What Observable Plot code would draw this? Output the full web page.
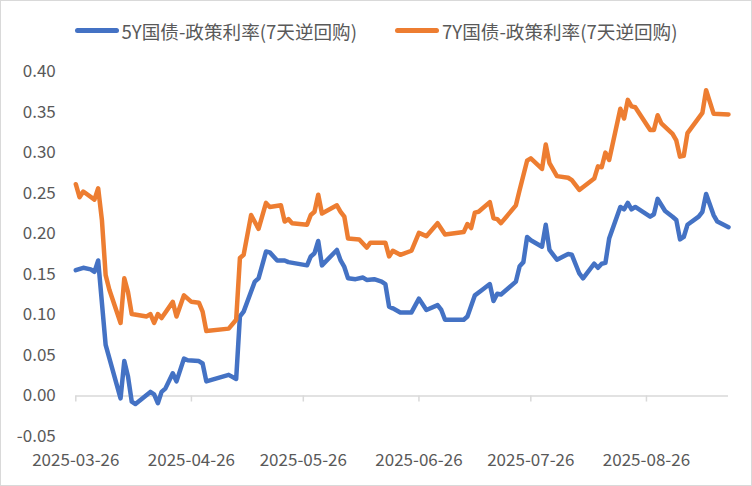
<!DOCTYPE html>
<html>
<head>
<meta charset="utf-8">
<script src="https://cdn.jsdelivr.net/npm/d3@7"></script>
<script src="https://cdn.jsdelivr.net/npm/@observablehq/plot@0.6"></script>
<style>
  html, body { margin: 0; padding: 0; background: #fff; }
  #wrap { position: relative; width: 752px; height: 486px; overflow: hidden; background: #fff;
          font-family: "Noto Sans CJK SC", "Noto Sans", sans-serif; color: #595959; }
  #frame { position: absolute; left: 0; top: 0; width: 752px; height: 486px; box-sizing: border-box;
           border: 1px solid #d9d9d9; pointer-events: none; }
  #legend { height: 56px; display: flex; justify-content: center; align-items: center; gap: 38px;
            font-size: 18.6px; padding-top: 4px; box-sizing: border-box; }
  .item { display: flex; align-items: center; gap: 3px; }
  .sw { width: 44px; height: 5px; border-radius: 3px; }
  svg { display: block; }
</style>
</head>
<body>
<div id="wrap">
  <div id="legend"></div>
  <div id="chart"></div>
  <div id="frame"></div>
</div>
<script>
const seriesNames = ["5Y国债-政策利率(7天逆回购)", "7Y国债-政策利率(7天逆回购)"];
const seriesColors = ["#4472C4", "#ED7D31"];

const dates5 = [
  "2025-03-26","2025-03-28","2025-03-30","2025-03-31","2025-04-01","2025-04-03","2025-04-07","2025-04-08","2025-04-09","2025-04-10",
  "2025-04-11","2025-04-15","2025-04-16","2025-04-17","2025-04-18","2025-04-19","2025-04-21","2025-04-22","2025-04-24","2025-04-25",
  "2025-04-28","2025-04-29","2025-04-30","2025-05-06","2025-05-08","2025-05-09","2025-05-10","2025-05-13","2025-05-14","2025-05-16",
  "2025-05-17","2025-05-19","2025-05-21","2025-05-22","2025-05-27","2025-05-28","2025-05-29","2025-05-30","2025-05-31","2025-06-04",
  "2025-06-05","2025-06-06","2025-06-07","2025-06-09","2025-06-11","2025-06-12","2025-06-14","2025-06-16","2025-06-17","2025-06-18",
  "2025-06-19","2025-06-21","2025-06-24","2025-06-26","2025-06-28","2025-07-01","2025-07-02","2025-07-03","2025-07-08","2025-07-09",
  "2025-07-11","2025-07-13","2025-07-15","2025-07-16","2025-07-17","2025-07-18","2025-07-22","2025-07-23","2025-07-24","2025-07-25",
  "2025-07-26","2025-07-29","2025-07-30","2025-07-31","2025-08-02","2025-08-05","2025-08-06","2025-08-08","2025-08-09","2025-08-12",
  "2025-08-13","2025-08-14","2025-08-15","2025-08-16","2025-08-19","2025-08-20","2025-08-21","2025-08-22","2025-08-23","2025-08-27",
  "2025-08-28","2025-08-29","2025-08-31","2025-09-02","2025-09-03","2025-09-04","2025-09-05","2025-09-06","2025-09-09","2025-09-10",
  "2025-09-11","2025-09-13","2025-09-14","2025-09-17"
];
const values5 = [
  0.155, 0.158, 0.156, 0.153, 0.167, 0.063, -0.003, 0.043, 0.024, -0.007,
  -0.010, 0.005, 0.002, -0.009, 0.005, 0.009, 0.028, 0.018, 0.046, 0.044,
  0.043, 0.040, 0.018, 0.026, 0.021, 0.098, 0.104, 0.141, 0.145, 0.178,
  0.177, 0.167, 0.167, 0.165, 0.161, 0.172, 0.176, 0.191, 0.161, 0.180,
  0.167, 0.159, 0.145, 0.144, 0.146, 0.143, 0.144, 0.141, 0.138, 0.110,
  0.108, 0.103, 0.103, 0.120, 0.106, 0.112, 0.106, 0.094, 0.094, 0.098,
  0.124, 0.131, 0.138, 0.117, 0.126, 0.125, 0.141, 0.160, 0.165, 0.196,
  0.192, 0.184, 0.211, 0.180, 0.168, 0.175, 0.174, 0.151, 0.145, 0.163,
  0.158, 0.163, 0.164, 0.194, 0.233, 0.230, 0.238, 0.230, 0.233, 0.221,
  0.224, 0.243, 0.228, 0.221, 0.217, 0.193, 0.196, 0.211, 0.221, 0.227,
  0.249, 0.223, 0.215, 0.208
];

const dates7 = [
  "2025-03-26","2025-03-27","2025-03-28","2025-03-31","2025-04-01","2025-04-02","2025-04-03","2025-04-04","2025-04-07","2025-04-08",
  "2025-04-09","2025-04-10","2025-04-14","2025-04-15","2025-04-16","2025-04-17","2025-04-18","2025-04-21","2025-04-22","2025-04-24",
  "2025-04-26","2025-04-28","2025-04-29","2025-04-30","2025-05-06","2025-05-08","2025-05-09","2025-05-10","2025-05-12","2025-05-14",
  "2025-05-16","2025-05-17","2025-05-20","2025-05-21","2025-05-22","2025-05-23","2025-05-27","2025-05-28","2025-05-29","2025-05-30",
  "2025-05-31","2025-06-04","2025-06-05","2025-06-06","2025-06-07","2025-06-10","2025-06-12","2025-06-13","2025-06-17","2025-06-18",
  "2025-06-19","2025-06-21","2025-06-24","2025-06-26","2025-06-28","2025-07-01","2025-07-03","2025-07-08","2025-07-09","2025-07-10",
  "2025-07-11","2025-07-12","2025-07-15","2025-07-16","2025-07-17","2025-07-18","2025-07-22","2025-07-23","2025-07-25","2025-07-26",
  "2025-07-29","2025-07-30","2025-07-31","2025-08-02","2025-08-05","2025-08-06","2025-08-08","2025-08-12","2025-08-13","2025-08-14",
  "2025-08-15","2025-08-16","2025-08-19","2025-08-20","2025-08-21","2025-08-22","2025-08-23","2025-08-27","2025-08-28","2025-08-29",
  "2025-08-30","2025-09-02","2025-09-03","2025-09-04","2025-09-05","2025-09-06","2025-09-10","2025-09-11","2025-09-13","2025-09-17"
];
const values7 = [
  0.261, 0.245, 0.252, 0.242, 0.256, 0.217, 0.149, 0.131, 0.090, 0.145,
  0.128, 0.101, 0.098, 0.101, 0.090, 0.101, 0.096, 0.116, 0.098, 0.124,
  0.116, 0.115, 0.104, 0.080, 0.083, 0.094, 0.170, 0.174, 0.223, 0.206,
  0.238, 0.233, 0.235, 0.215, 0.218, 0.213, 0.211, 0.223, 0.227, 0.248,
  0.225, 0.235, 0.227, 0.221, 0.194, 0.193, 0.183, 0.189, 0.189, 0.172,
  0.179, 0.174, 0.179, 0.201, 0.197, 0.213, 0.199, 0.202, 0.212, 0.207,
  0.226, 0.227, 0.239, 0.219, 0.218, 0.213, 0.235, 0.254, 0.290, 0.293,
  0.280, 0.310, 0.287, 0.271, 0.269, 0.266, 0.254, 0.268, 0.283, 0.282,
  0.300, 0.291, 0.354, 0.342, 0.365, 0.357, 0.356, 0.328, 0.328, 0.346,
  0.336, 0.323, 0.315, 0.295, 0.296, 0.324, 0.349, 0.377, 0.348, 0.347
];

const xTickLabels = ["2025-03-26","2025-04-26","2025-05-26","2025-06-26","2025-07-26","2025-08-26"];
const yTickValues = [-0.05, 0.00, 0.05, 0.10, 0.15, 0.20, 0.25, 0.30, 0.35, 0.40];
const xDomain = ["2025-03-26", "2025-09-17"];

const data5 = dates5.map((d, i) => ({date: new Date(d), value: values5[i]}));
const data7 = dates7.map((d, i) => ({date: new Date(d), value: values7[i]}));
const xTicks = xTickLabels.map(d => new Date(d));

// legend
const legend = document.getElementById("legend");
seriesNames.forEach((name, i) => {
  const it = document.createElement("div");
  it.className = "item";
  const sw = document.createElement("div");
  sw.className = "sw";
  sw.style.background = seriesColors[i];
  const tx = document.createElement("span");
  tx.textContent = name;
  it.appendChild(sw); it.appendChild(tx);
  legend.appendChild(it);
});

const chart = Plot.plot({
  width: 752,
  height: 430,
  marginLeft: 75.3,
  marginRight: 24,
  marginTop: 15,
  marginBottom: 50,
  style: {fontFamily: '"Noto Sans CJK SC", "Noto Sans", sans-serif', fontSize: "17px", color: "#595959", background: "transparent"},
  x: {type: "utc", domain: xDomain.map(d => new Date(d))},
  y: {domain: [-0.05, 0.40]},
  marks: [
    Plot.ruleY([0], {stroke: "#d9d9d9", strokeWidth: 1.5}),
    Plot.ruleX(xTicks, {x: d => d, y1: 0, y2: -0.0075, stroke: "#d9d9d9", strokeWidth: 1.5}),
    Plot.axisY({ticks: yTickValues, tickSize: 0, tickPadding: 20, tickFormat: d => d.toFixed(2), label: null}),
    Plot.axisX({ticks: xTicks, tickSize: 0, tickPadding: 17, tickFormat: d3.utcFormat("%Y-%m-%d"), label: null}),
    Plot.line(data5, {x: "date", y: "value", stroke: seriesColors[0], strokeWidth: 4.5, strokeLinejoin: "round", strokeLinecap: "round"}),
    Plot.line(data7, {x: "date", y: "value", stroke: seriesColors[1], strokeWidth: 4.5, strokeLinejoin: "round", strokeLinecap: "round"})
  ]
});
document.getElementById("chart").appendChild(chart);
</script>
</body>
</html>
